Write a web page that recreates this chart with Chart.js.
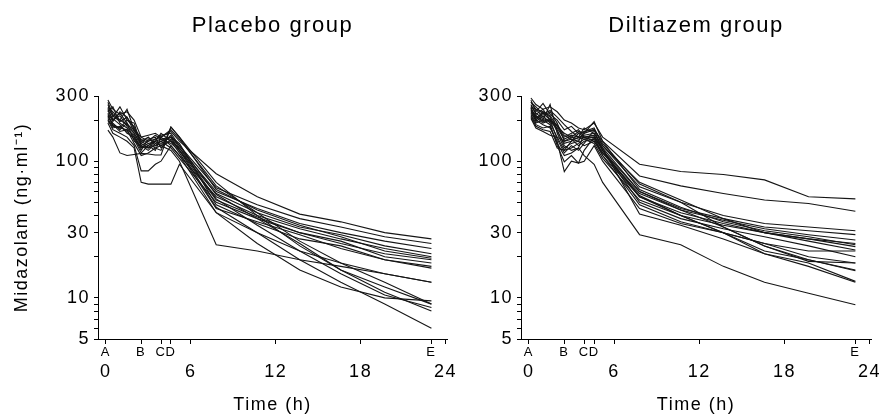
<!DOCTYPE html>
<html><head><meta charset="utf-8">
<script src="https://cdn.jsdelivr.net/npm/chart.js@4"></script>
<style>
html,body{margin:0;padding:0;background:#fff;}
#wrap{position:relative;width:883px;height:418px;overflow:hidden;}
.cv{position:absolute;top:0;}
</style></head><body>
<div id="wrap">
<div class="cv" style="left:0"><canvas id="c1" width="460" height="418"></canvas></div>
<div class="cv" style="left:460px"><canvas id="c2" width="423" height="418"></canvas></div>
</div>
<script>
// sampling times (h)
const TIMES = [0.15, 0.5, 1, 1.5, 2, 2.5, 3, 3.5, 3.9, 4.6, 5.2, 7.8, 10.7, 13.7, 16.6, 19.7, 23];
// event markers on the time axis
const MARK_TIMES = [0, 2.5, 3.9, 4.6, 23];
const MARK_LABELS = ['A', 'B', 'C', 'D', 'E'];
const HOUR_TICKS = [0, 6, 12, 18, 24];
const Y_TICKS = [5, 6, 7, 8, 9, 10, 20, 30, 40, 50, 60, 70, 80, 90, 100, 200, 300];
const Y_LABELS = [5, 10, 30, 100, 300];

// Midazolam concentrations (ng/ml), one row per subject
const placebo = [
  [280, 240, 220, 230, 200, 150, 140, 145, 150, 165, 140, 81, 55, 41, 36, 30, 27],
  [260, 210, 250, 200, 180, 140, 150, 130, 140, 150, 130, 64, 48, 38, 33, 28, 25],
  [250, 230, 200, 240, 170, 135, 125, 140, 130, 140, 125, 60, 45, 35, 30, 26, 23],
  [240, 200, 215, 180, 160, 130, 140, 155, 145, 135, 120, 58, 42, 33, 29, 24, 21],
  [230, 250, 190, 175, 150, 125, 130, 120, 150, 130, 110, 55, 40, 32, 27, 23, 20],
  [225, 195, 230, 210, 165, 145, 135, 125, 120, 178, 150, 62, 44, 34, 28, 22, 19.5],
  [220, 180, 175, 200, 190, 130, 120, 135, 140, 125, 105, 50, 38, 30, 25, 21, 19],
  [215, 205, 185, 160, 150, 120, 145, 150, 125, 145, 120, 52, 39, 30, 26, 20, 18],
  [210, 190, 170, 190, 140, 128, 125, 130, 135, 150, 135, 48, 35, 27, 24, 19, 17],
  [205, 175, 180, 165, 145, 115, 130, 140, 160, 140, 115, 45, 36, 29, 23, 19, 16.5],
  [200, 170, 160, 150, 130, 85, 85, 95, 100, 130, 110, 42, 30, 22, 18, 15, 13],
  [195, 185, 165, 170, 135, 110, 115, 125, 130, 120, 100, 24.5, 22, 19, 17, 15, 13],
  [190, 160, 150, 140, 125, 70, 68, 68, 68, 68, 95, 42, 25, 16, 12, 10, 9.5],
  [169, 150, 115, 110, 112, 114, 113, 111, 111, 178, 150, 70, 40, 24, 16, 12, 9],
  [270, 220, 200, 185, 170, 150, 155, 160, 150, 170, 145, 66, 42, 26, 18, 13, 9],
  [245, 215, 195, 210, 175, 140, 130, 145, 155, 160, 130, 57, 38, 25, 16, 11, 8],
  [235, 200, 225, 190, 160, 135, 150, 135, 130, 155, 125, 53, 34, 22, 15, 10.5, 8.5],
  [215, 185, 175, 170, 155, 125, 135, 140, 145, 150, 120, 46, 30, 19, 13, 9, 6]
];
const diltiazem = [
  [290, 260, 240, 250, 230, 200, 190, 175, 170, 190, 150, 95, 84, 80, 73, 55, 53],
  [280, 230, 265, 220, 200, 170, 180, 160, 165, 170, 140, 78, 66, 58, 52, 49, 43],
  [270, 250, 220, 235, 210, 185, 165, 150, 175, 160, 130, 65, 50, 40, 35, 33, 31],
  [260, 220, 240, 200, 180, 150, 160, 170, 150, 150, 120, 60, 45, 38, 33, 31, 29],
  [250, 240, 210, 230, 190, 140, 145, 130, 140, 145, 115, 58, 44, 37, 32, 29, 26.5],
  [245, 205, 230, 210, 170, 130, 120, 125, 160, 195, 140, 62, 46, 36, 31, 28, 24.5],
  [240, 215, 200, 260, 160, 125, 135, 140, 130, 140, 110, 55, 42, 35, 30, 27, 23.7],
  [235, 195, 215, 190, 150, 120, 125, 135, 145, 135, 105, 52, 40, 34, 30, 26, 22.4],
  [230, 210, 190, 200, 145, 115, 130, 120, 135, 169, 120, 50, 38, 32, 28, 24, 20],
  [225, 200, 185, 175, 140, 84, 100, 97, 120, 150, 110, 48, 36, 30, 25, 20, 18],
  [220, 190, 200, 185, 130, 99, 110, 97, 100, 130, 100, 45, 35, 30, 22, 19, 16],
  [215, 185, 175, 180, 135, 110, 115, 125, 110, 95, 70, 29, 24.5, 17, 13, 10.8, 8.9],
  [210, 180, 170, 165, 125, 120, 140, 150, 155, 160, 125, 41, 34, 27, 21, 18, 13.2],
  [205, 175, 165, 155, 150, 140, 150, 145, 150, 155, 120, 55, 40, 30, 21, 17, 13],
  [270, 240, 230, 215, 180, 160, 150, 165, 160, 170, 135, 68, 50, 33, 24, 19, 15.8],
  [255, 225, 205, 195, 175, 145, 155, 150, 145, 150, 125, 60, 44, 33, 24, 18.5, 18],
  [238, 215, 195, 205, 165, 135, 140, 160, 150, 140, 115, 56, 40, 30, 25, 22, 22],
  [248, 200, 225, 200, 185, 155, 145, 140, 165, 175, 130, 70, 52, 38, 30, 27, 25]
];

const FONT = "'Liberation Sans', Arial, Helvetica, sans-serif";
const INK = '#000';

// widen the glyph spacing of all canvas text, as in the printed figure
const spacingPlugin = {
  id: 'spacing',
  beforeDraw(chart) { chart.ctx.letterSpacing = '1.5px'; },
  afterDraw(chart) { chart.ctx.letterSpacing = '0px'; }
};

function makeChart(id, titleText, rows, yWidth, showYTitle, padRight) {
  const datasets = rows.map(r => ({
    data: TIMES.map((t, i) => ({x: t, y: r[i]})),
    borderColor: '#151515', borderWidth: 1.1, pointRadius: 0, tension: 0, fill: false
  }));
  const xMin = -0.55, xMax = 24.1;
  return new Chart(document.getElementById(id), {
    type: 'line',
    data: {datasets},
    plugins: [spacingPlugin],
    options: {
      responsive: false, animation: false, events: [],
      layout: {padding: {left: 0, right: padRight, top: 0, bottom: 0}},
      plugins: {
        legend: {display: false}, tooltip: {enabled: false},
        title: {display: true, text: titleText, fullSize: false, color: INK,
          font: {family: FONT, size: 22, weight: 'normal'}, padding: {top: 13, bottom: 56.6}}
      },
      scales: {
        x: {type: 'linear', position: 'bottom', min: xMin, max: xMax, weight: 0,
          afterBuildTicks: s => { s.ticks = MARK_TIMES.concat([6, 12, 18, 24]).sort((a,b)=>a-b).map(v => ({value: v})); },
          ticks: {autoSkip: false, maxRotation: 0, padding: 1, color: INK,
            font: {family: FONT, size: 13},
            callback: v => { const k = MARK_TIMES.indexOf(v); return k >= 0 ? MARK_LABELS[k] : ''; }},
          grid: {drawOnChartArea: false, drawTicks: true, tickLength: 5, color: INK, tickColor: INK, tickWidth: 1},
          border: {display: true, color: INK, width: 1},
          afterFit: s => { s.height = 20; }
        },
        x2: {type: 'linear', position: 'bottom', min: xMin, max: xMax, weight: 1,
          afterBuildTicks: s => { s.ticks = HOUR_TICKS.map(v => ({value: v})); },
          ticks: {autoSkip: false, maxRotation: 0, padding: 2, color: INK,
            font: {family: FONT, size: 18}},
          grid: {display: false, drawTicks: false},
          border: {display: false},
          title: {display: true, text: 'Time (h)', color: INK, font: {family: FONT, size: 18},
            padding: {top: 0, bottom: 2}},
          afterFit: s => { s.height = 59; }
        },
        y: {type: 'logarithmic', position: 'left', min: 5, max: 300,
          afterBuildTicks: s => { s.ticks = Y_TICKS.map(v => ({value: v})); },
          ticks: {autoSkip: false, padding: 4, color: INK, font: {family: FONT, size: 18},
            callback: v => Y_LABELS.includes(v) ? String(v) : ''},
          grid: {drawOnChartArea: false, drawTicks: true, tickLength: 4, color: INK, tickColor: INK},
          border: {display: true, color: INK, width: 1},
          title: {display: showYTitle, text: 'Midazolam (ng\u00B7ml\u207B\u00B9)', color: INK,
            font: {family: FONT, size: 18}, padding: {top: 11, bottom: 0}},
          afterFit: s => { s.width = yWidth; }
        }
      }
    }
  });
}

makeChart('c1', 'Placebo group', placebo, 98, true, 13);
makeChart('c2', 'Diltiazem group', diltiazem, 61, false, 12);
</script>
</body></html>
